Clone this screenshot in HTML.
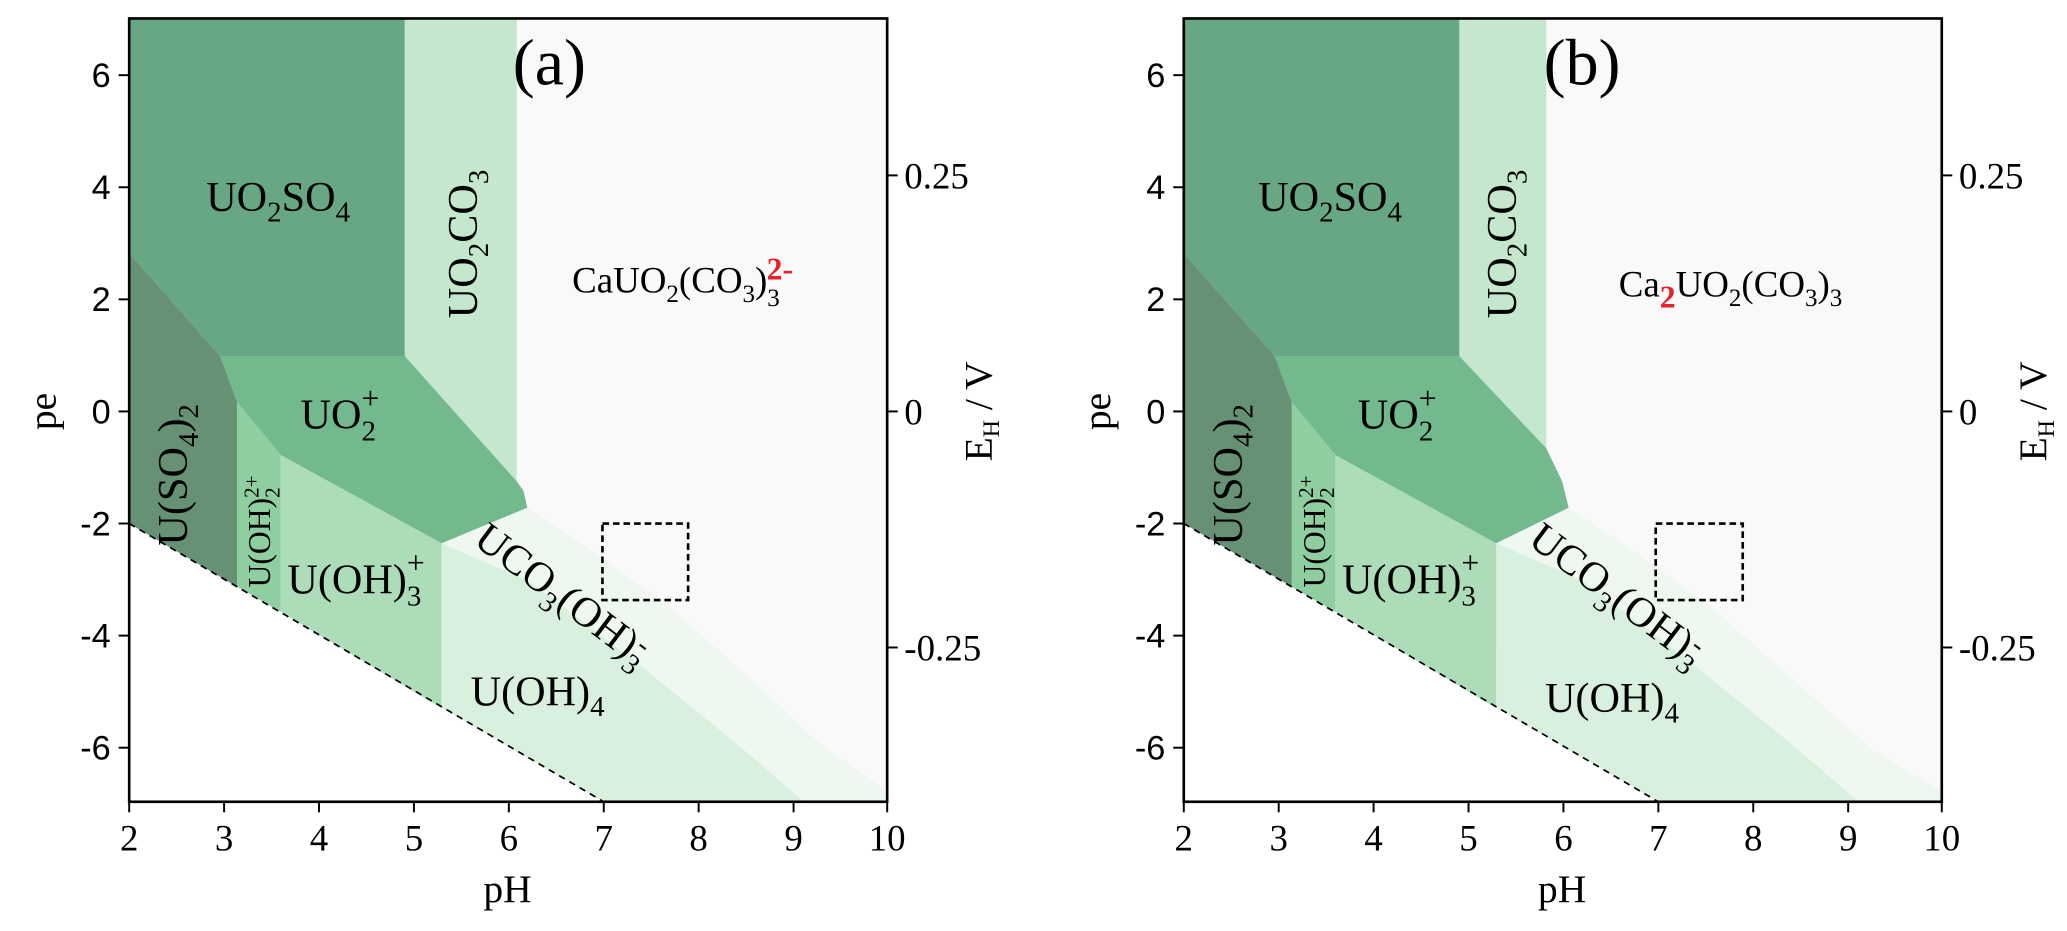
<!DOCTYPE html>
<html><head><meta charset="utf-8"><style>
html,body{margin:0;padding:0;background:#fff;}
svg{display:block;}
text{font-family:"Liberation Serif",serif;fill:#000;}
.s{font-family:"Liberation Sans",sans-serif;}
</style></head><body>
<svg width="2067" height="931" viewBox="0 0 1568 706" preserveAspectRatio="none" xmlns="http://www.w3.org/2000/svg">

<!-- ===== Panel A ===== -->
<g>
<rect x="98" y="14" width="575" height="594" fill="#f9f9f9"/>
<polygon points="98,397 458,608 98,608" fill="#ffffff"/>
<polygon points="335,412 400,385 450,418 510,462 570,515 620,562 673,600 673,608 610,608" fill="#eef8f0"/>
<polygon points="335,412 335,537 458,608 610,608 560,565 480,500 400,440" fill="#daf0df"/>
<polygon points="307,14 392,14 392,365 307,270" fill="#c5e7cd"/>
<polygon points="98,14 307,14 307,270 167,270 98,192" fill="#68a783"/>
<polygon points="98,192 167,270 180,305 180,445 98,397" fill="#669174"/>
<polygon points="180,305 213,345 213,464 180,445" fill="#8fcea0"/>
<polygon points="213,345 335,412 335,537 213,464" fill="#acdcb8"/>
<polygon points="167,270 307,270 392,365 397,372 400,385 335,412 213,345 180,305" fill="#72b98e"/>
<line x1="98" y1="397" x2="458" y2="608" stroke="#000" stroke-width="1.3" stroke-dasharray="5,4"/>
<rect x="457" y="397" width="65" height="58" fill="none" stroke="#000" stroke-width="2" stroke-dasharray="5,3"/>
<rect x="98" y="14" width="575" height="594" fill="none" stroke="#000" stroke-width="2"/>
<g stroke="#000" stroke-width="1.5">
<line x1="90" y1="57" x2="98" y2="57"/><line x1="90" y1="142" x2="98" y2="142"/><line x1="90" y1="227" x2="98" y2="227"/><line x1="90" y1="312" x2="98" y2="312"/><line x1="90" y1="397" x2="98" y2="397"/><line x1="90" y1="482" x2="98" y2="482"/><line x1="90" y1="567" x2="98" y2="567"/>
<line x1="673" y1="133" x2="681" y2="133"/><line x1="673" y1="312" x2="681" y2="312"/><line x1="673" y1="491" x2="681" y2="491"/>
<line x1="98" y1="608" x2="98" y2="616"/><line x1="170" y1="608" x2="170" y2="616"/><line x1="242" y1="608" x2="242" y2="616"/><line x1="314" y1="608" x2="314" y2="616"/><line x1="386" y1="608" x2="386" y2="616"/><line x1="458" y1="608" x2="458" y2="616"/><line x1="530" y1="608" x2="530" y2="616"/><line x1="602" y1="608" x2="602" y2="616"/><line x1="673" y1="608" x2="673" y2="616"/>
</g>
<g font-size="26" text-anchor="end">
<text class="s" x="84" y="66">6</text><text class="s" x="84" y="151">4</text><text class="s" x="84" y="236">2</text><text class="s" x="84" y="321">0</text><text class="s" x="84" y="406">-2</text><text class="s" x="84" y="491">-4</text><text class="s" x="84" y="576">-6</text>
</g>
<g font-size="28" text-anchor="middle">
<text x="98" y="645">2</text><text x="170" y="645">3</text><text x="242" y="645">4</text><text x="314" y="645">5</text><text x="386" y="645">6</text><text x="458" y="645">7</text><text x="530" y="645">8</text><text x="602" y="645">9</text><text x="673" y="645">10</text>
<text x="385" y="684" font-size="30">pH</text>
</g>
<g font-size="28">
<text x="686" y="143">0.25</text><text x="686" y="322">0</text><text x="686" y="501">-0.25</text>
</g>
<text transform="translate(42,312) rotate(-90)" font-size="30" text-anchor="middle">pe</text>
<text transform="translate(752,312) rotate(-90)" font-size="30" text-anchor="middle">E<tspan font-size="18" dy="6">H</tspan><tspan dy="-6"> / V</tspan></text>
<text x="389" y="64" font-size="50">(a)</text>
<text x="211" y="160" font-size="32" text-anchor="middle">UO<tspan font-size="22" dy="8">2</tspan><tspan dy="-8">SO</tspan><tspan font-size="22" dy="8">4</tspan></text>
<text transform="translate(362,185) rotate(-90)" font-size="32" text-anchor="middle">UO<tspan font-size="22" dy="8">2</tspan><tspan dy="-8">CO</tspan><tspan font-size="22" dy="8">3</tspan></text>
<text x="434" y="222" font-size="28">CaUO<tspan font-size="19" dy="7">2</tspan><tspan dy="-7">(CO</tspan><tspan font-size="19" dy="7">3</tspan><tspan dy="-7">)</tspan><tspan font-size="19" dy="10">3</tspan><tspan font-size="24" dy="-20" dx="-10" font-weight="bold" style="fill:#e8202a">2-</tspan></text>
<text x="228" y="325" font-size="32">UO<tspan font-size="22" dy="9">2</tspan><tspan font-size="24" dy="-24" dx="-11">+</tspan></text>
<text transform="translate(142,360) rotate(-90)" font-size="32" text-anchor="middle">U(SO<tspan font-size="22" dy="8">4</tspan><tspan dy="-8">)</tspan><tspan font-size="22" dy="8">2</tspan></text>
<text transform="translate(205,403) rotate(-90)" font-size="24" text-anchor="middle">U(OH)<tspan font-size="16" dy="7">2</tspan><tspan font-size="16" dy="-16" dx="-8">2+</tspan></text>
<text x="218" y="450" font-size="32">U(OH)<tspan font-size="22" dy="9">3</tspan><tspan font-size="24" dy="-24" dx="-11">+</tspan></text>
<text transform="translate(358,412) rotate(37)" font-size="32">UCO<tspan font-size="22" dy="8">3</tspan><tspan dy="-8">(OH)</tspan><tspan font-size="22" dy="8">3</tspan><tspan font-size="22" dy="-18" dx="-10">-</tspan></text>
<text x="357" y="535" font-size="32">U(OH)<tspan font-size="22" dy="8">4</tspan></text>
</g>

<!-- ===== Panel B ===== -->
<g>
<rect x="898" y="14" width="575" height="594" fill="#f9f9f9"/>
<polygon points="898,397 1258,608 898,608" fill="#ffffff"/>
<polygon points="1135,412 1190,385 1240,418 1300,462 1360,515 1420,568 1473,600 1473,608 1410,608" fill="#eef8f0"/>
<polygon points="1135,412 1135,537 1258,608 1410,608 1360,565 1280,500 1200,440" fill="#daf0df"/>
<polygon points="1107,14 1173,14 1173,340 1107,270" fill="#c5e7cd"/>
<polygon points="898,14 1107,14 1107,270 967,270 898,192" fill="#68a783"/>
<polygon points="898,192 967,270 980,305 980,445 898,397" fill="#669174"/>
<polygon points="980,305 1013,345 1013,464 980,445" fill="#8fcea0"/>
<polygon points="1013,345 1135,412 1135,537 1013,464" fill="#acdcb8"/>
<polygon points="967,270 1107,270 1173,340 1185,365 1190,385 1135,412 1013,345 980,305" fill="#72b98e"/>
<line x1="898" y1="397" x2="1258" y2="608" stroke="#000" stroke-width="1.3" stroke-dasharray="5,4"/>
<rect x="1256" y="397" width="66" height="58" fill="none" stroke="#000" stroke-width="2" stroke-dasharray="5,3"/>
<rect x="898" y="14" width="575" height="594" fill="none" stroke="#000" stroke-width="2"/>
<g stroke="#000" stroke-width="1.5">
<line x1="890" y1="57" x2="898" y2="57"/><line x1="890" y1="142" x2="898" y2="142"/><line x1="890" y1="227" x2="898" y2="227"/><line x1="890" y1="312" x2="898" y2="312"/><line x1="890" y1="397" x2="898" y2="397"/><line x1="890" y1="482" x2="898" y2="482"/><line x1="890" y1="567" x2="898" y2="567"/>
<line x1="1473" y1="133" x2="1481" y2="133"/><line x1="1473" y1="312" x2="1481" y2="312"/><line x1="1473" y1="491" x2="1481" y2="491"/>
<line x1="898" y1="608" x2="898" y2="616"/><line x1="970" y1="608" x2="970" y2="616"/><line x1="1042" y1="608" x2="1042" y2="616"/><line x1="1114" y1="608" x2="1114" y2="616"/><line x1="1186" y1="608" x2="1186" y2="616"/><line x1="1258" y1="608" x2="1258" y2="616"/><line x1="1330" y1="608" x2="1330" y2="616"/><line x1="1402" y1="608" x2="1402" y2="616"/><line x1="1473" y1="608" x2="1473" y2="616"/>
</g>
<g font-size="26" text-anchor="end">
<text class="s" x="884" y="66">6</text><text class="s" x="884" y="151">4</text><text class="s" x="884" y="236">2</text><text class="s" x="884" y="321">0</text><text class="s" x="884" y="406">-2</text><text class="s" x="884" y="491">-4</text><text class="s" x="884" y="576">-6</text>
</g>
<g font-size="28" text-anchor="middle">
<text x="898" y="645">2</text><text x="970" y="645">3</text><text x="1042" y="645">4</text><text x="1114" y="645">5</text><text x="1186" y="645">6</text><text x="1258" y="645">7</text><text x="1330" y="645">8</text><text x="1402" y="645">9</text><text x="1473" y="645">10</text>
<text x="1185" y="684" font-size="30">pH</text>
</g>
<g font-size="28">
<text x="1486" y="143">0.25</text><text x="1486" y="322">0</text><text x="1486" y="501">-0.25</text>
</g>
<text transform="translate(842,312) rotate(-90)" font-size="30" text-anchor="middle">pe</text>
<text transform="translate(1552,312) rotate(-90)" font-size="30" text-anchor="middle">E<tspan font-size="18" dy="6">H</tspan><tspan dy="-6"> / V</tspan></text>
<text x="1171" y="64" font-size="50">(b)</text>
<text x="1009" y="160" font-size="32" text-anchor="middle">UO<tspan font-size="22" dy="8">2</tspan><tspan dy="-8">SO</tspan><tspan font-size="22" dy="8">4</tspan></text>
<text transform="translate(1150,185) rotate(-90)" font-size="32" text-anchor="middle">UO<tspan font-size="22" dy="8">2</tspan><tspan dy="-8">CO</tspan><tspan font-size="22" dy="8">3</tspan></text>
<text x="1228" y="225" font-size="28">Ca<tspan font-size="24" dy="8" font-weight="bold" style="fill:#e8202a">2</tspan><tspan dy="-8">UO</tspan><tspan font-size="19" dy="7">2</tspan><tspan dy="-7">(CO</tspan><tspan font-size="19" dy="7">3</tspan><tspan dy="-7">)</tspan><tspan font-size="19" dy="7">3</tspan></text>
<text x="1030" y="325" font-size="32">UO<tspan font-size="22" dy="9">2</tspan><tspan font-size="24" dy="-24" dx="-11">+</tspan></text>
<text transform="translate(942,360) rotate(-90)" font-size="32" text-anchor="middle">U(SO<tspan font-size="22" dy="8">4</tspan><tspan dy="-8">)</tspan><tspan font-size="22" dy="8">2</tspan></text>
<text transform="translate(1005,403) rotate(-90)" font-size="24" text-anchor="middle">U(OH)<tspan font-size="16" dy="7">2</tspan><tspan font-size="16" dy="-16" dx="-8">2+</tspan></text>
<text x="1018" y="450" font-size="32">U(OH)<tspan font-size="22" dy="9">3</tspan><tspan font-size="24" dy="-24" dx="-11">+</tspan></text>
<text transform="translate(1158,412) rotate(37)" font-size="32">UCO<tspan font-size="22" dy="8">3</tspan><tspan dy="-8">(OH)</tspan><tspan font-size="22" dy="8">3</tspan><tspan font-size="22" dy="-18" dx="-10">-</tspan></text>
<text x="1172" y="540" font-size="32">U(OH)<tspan font-size="22" dy="8">4</tspan></text>
</g>
</svg>
</body></html>
